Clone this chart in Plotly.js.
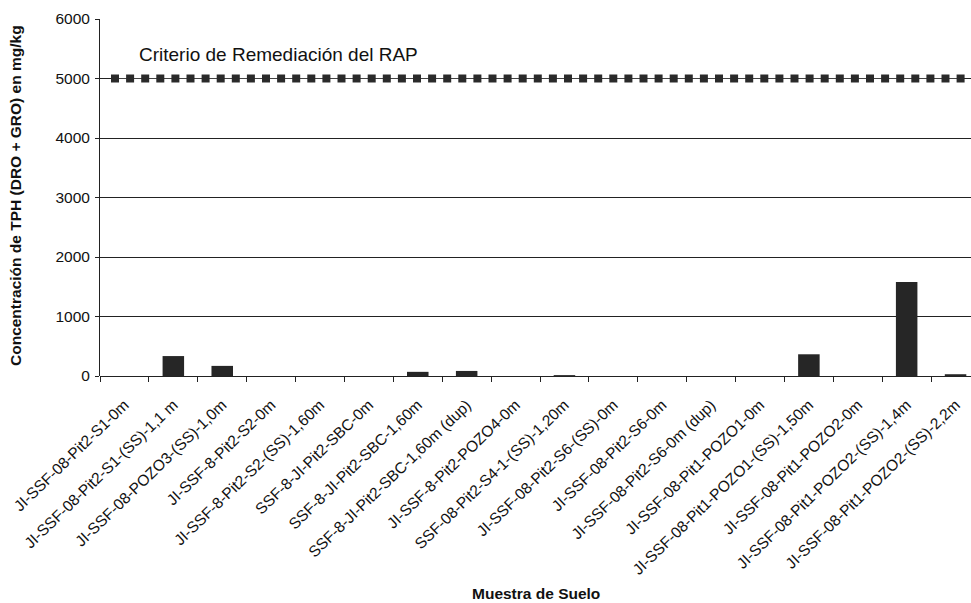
<!DOCTYPE html>
<html>
<head>
<meta charset="utf-8">
<script src="https://cdn.plot.ly/plotly-3.0.1.min.js"></script>
<style>html,body{margin:0;padding:0;background:#fff;overflow:hidden;width:971px;height:603px}#chart{width:980px;height:603px}</style>
</head>
<body>
<div id="chart"></div>
<script>
const categories = [
  "JI-SSF-08-Pit2-S1-0m",
  "JI-SSF-08-Pit2-S1-(SS)-1,1 m",
  "JI-SSF-08-POZO3-(SS)-1,0m",
  "JI-SSF-8-Pit2-S2-0m",
  "JI-SSF-8-Pit2-S2-(SS)-1,60m",
  "SSF-8-JI-Pit2-SBC-0m",
  "SSF-8-JI-Pit2-SBC-1,60m",
  "SSF-8-JI-Pit2-SBC-1,60m (dup)",
  "JI-SSF-8-Pit2-POZO4-0m",
  "SSF-08-Pit2-S4-1-(SS)-1,20m",
  "JI-SSF-08-Pit2-S6-(SS)-0m",
  "JI-SSF-08-Pit2-S6-0m",
  "JI-SSF-08-Pit2-S6-0m (dup)",
  "JI-SSF-08-Pit1-POZO1-0m",
  "JI-SSF-08-Pit1-POZO1-(SS)-1,50m",
  "JI-SSF-08-Pit1-POZO2-0m",
  "JI-SSF-08-Pit1-POZO2-(SS)-1,4m",
  "JI-SSF-08-Pit1-POZO2-(SS)-2,2m"
];
const tphValues = [0, 335, 170, 0, 0, 0, 70, 85, 0, 15, 0, 0, 0, 0, 365, 0, 1580, 30];

const criterionY = [
  5000,5000,5000,5000,5000,5000,5000,5000,5000,5000,
  5000,5000,5000,5000,5000,5000,5000,5000,5000,5000,
  5000,5000,5000,5000,5000,5000,5000,5000,5000,5000,
  5000,5000,5000,5000,5000,5000,5000,5000,5000,5000,
  5000,5000,5000,5000,5000,5000,5000,5000,5000,5000,
  5000,5000,5000,5000,5000,5000,5000
];
const criterionX = criterionY.map((v, i) => i);

const yTicks = [0, 1000, 2000, 3000, 4000, 5000, 6000];

const FONT = "Liberation Sans, Arial, sans-serif";

// plot box in pixels
const L = 100, T = 19, W = 880, H = 357;
const px = x => (x - L) / W;
const py = y => (T + H - y) / H;

const traces = [
  {
    type: "bar",
    x: categories,
    y: tphValues,
    marker: {color: "#262626", line: {width: 0}},
    hoverinfo: "x+y",
    showlegend: false
  },
  {
    type: "scatter",
    mode: "lines+markers",
    x: criterionX,
    y: criterionY,
    xaxis: "x2",
    line: {color: "#444", width: 1},
    marker: {symbol: "square", size: 8, color: "#2a2a2a"},
    showlegend: false,
    hoverinfo: "y"
  }
];

const layout = {
  width: 980,
  height: 603,
  margin: {l: L, r: 0, t: T, b: 603 - T - H},
  paper_bgcolor: "#fff",
  plot_bgcolor: "#fff",
  font: {family: FONT, color: "#111"},
  bargap: 0.56,
  xaxis: {
    type: "category",
    tickangle: -44,
    tickfont: {size: 15.5, color: "#111"},
    ticks: "outside",
    tickson: "boundaries",
    ticklen: 5,
    tickcolor: "#222",
    ticklabelstandoff: 16,
    showline: false,
    showgrid: false,
    zeroline: false,
    automargin: false
  },
  xaxis2: {
    overlaying: "x",
    range: [(L - 115) / 15.1, (L + W - 115) / 15.1],
    visible: false
  },
  yaxis: {
    range: [0, 6000],
    tickvals: yTicks,
    ticktext: yTicks.map(String),
    tickfont: {size: 15.5, color: "#111"},
    ticks: "outside",
    ticklen: 4,
    tickcolor: "#222",
    ticklabelstandoff: 2,
    showline: true,
    linecolor: "#222",
    linewidth: 1,
    showgrid: true,
    gridcolor: "#222",
    gridwidth: 1,
    zeroline: true,
    zerolinecolor: "#222",
    zerolinewidth: 1,
    automargin: false
  },
  annotations: [
    {
      text: "Criterio de Remediación del RAP",
      xref: "paper", yref: "paper",
      x: px(137), y: py(55),
      xanchor: "left", yanchor: "middle",
      showarrow: false,
      font: {size: 19, family: FONT, color: "#111"}
    },
    {
      text: "<b>Concentración de TPH (DRO + GRO) en mg/kg</b>",
      xref: "paper", yref: "paper",
      x: px(15), y: py(196),
      xanchor: "center", yanchor: "middle",
      textangle: -90,
      showarrow: false,
      font: {size: 15.5, family: FONT, color: "#111"}
    },
    {
      text: "<b>Muestra de Suelo</b>",
      xref: "paper", yref: "paper",
      x: px(536), y: py(593),
      xanchor: "center", yanchor: "middle",
      showarrow: false,
      font: {size: 15.5, family: FONT, color: "#111"}
    }
  ]
};

Plotly.newPlot("chart", traces, layout, {displayModeBar: false, staticPlot: true});
</script>
</body>
</html>
